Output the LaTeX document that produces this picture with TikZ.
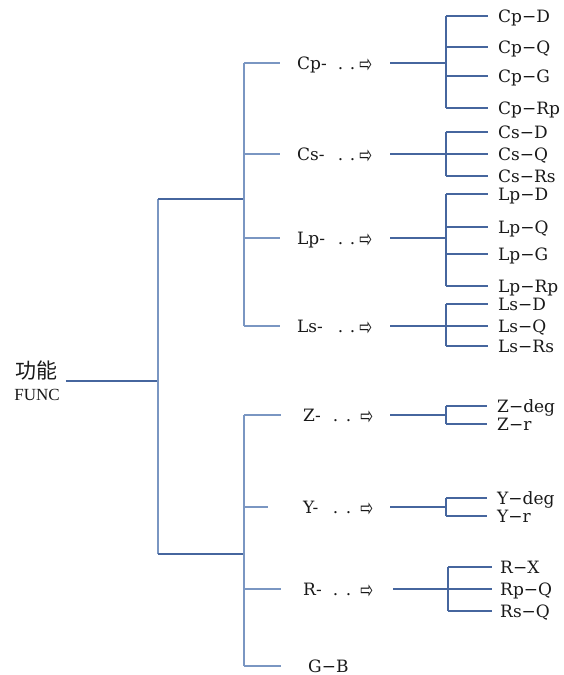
\documentclass[tikz,border=0pt]{standalone}
\usepackage{fontspec}
\setmainfont{DejaVu Serif}
\newfontfamily\cjk{Noto Sans CJK SC}
\newfontfamily\arr{DejaVu Sans}
\newfontfamily\tms{Liberation Serif}
\definecolor{lnc}{RGB}{70,102,158}
\definecolor{lnl}{RGB}{122,150,194}
\definecolor{txt}{RGB}{25,25,25}
\newcommand{\arrglyph}{\raisebox{-3.5pt}{\scalebox{0.85}[1.35]{\arr\fontsize{18}{20}\selectfont ⇨}}}
\newcommand{\midA}[1]{\makebox[75pt][l]{#1-\hfill.\hspace{6.6pt}.\hspace{4pt}\arrglyph}}
\newcommand{\midB}[1]{\makebox[70pt][l]{#1-\hfill.\hspace{7.6pt}.\hspace{9pt}\arrglyph}}
\begin{document}
\begin{tikzpicture}[x=1pt,y=-1pt,
  ln/.style={draw=lnc, line width=1.3pt},
  lnthick/.style={draw=lnl, line width=2.2pt},
  lbl/.style={anchor=west, inner sep=0pt, text height=12pt, text depth=0pt,
              font=\fontsize{17}{20}\selectfont, text=txt},
]
\useasboundingbox (0,0) rectangle (564,675);

% root
\node[inner sep=0pt, align=center, text=txt, font=\fontsize{17}{22}\selectfont] (root) at (37,381)
  {{\cjk\fontsize{21}{22}\selectfont 功能}\\{\tms FUNC}};

% level 1
\coordinate (b0) at (158,381);
\coordinate (bt) at (158,199);
\coordinate (bb) at (158,554);
\coordinate (ct) at (244,199);
\coordinate (cb) at (244,554);
\draw[ln] (root.east |- b0) ++(6,0) -- (b0);
\draw[lnthick] (bt) -- (bb);
\draw[ln] (bt) -- (ct);
\draw[ln] (bb) -- (cb);

% level 2 verticals
\coordinate (s1) at (244,63);
\coordinate (s2) at (244,154);
\coordinate (s3) at (244,238);
\coordinate (s4) at (244,326);
\coordinate (s5) at (244,415);
\coordinate (s6) at (244,507);
\coordinate (s7) at (244,589);
\coordinate (s8) at (244,666);
\draw[lnthick] (s1) -- (s4);
\draw[lnthick] (s5) -- (s8);

% middle labels
\node[lbl] (cp) at (297,63)  {\midA{Cp}};
\node[lbl] (cs) at (297,154) {\midA{Cs}};
\node[lbl] (lp) at (297,238) {\midA{Lp}};
\node[lbl] (ls) at (297,326) {\midA{Ls}};
\node[lbl] (z)  at (303,415) {\midB{Z}};
\node[lbl] (y)  at (303,507) {\midB{Y}};
\node[lbl] (r)  at (303,589) {\midB{R}};
\node[lbl] (gb) at (308,666) {G−B};

\draw[lnthick] (s1) -- ([xshift=-17pt]cp.west);
\draw[lnthick] (s2) -- ([xshift=-17pt]cs.west);
\draw[lnthick] (s3) -- ([xshift=-17pt]lp.west);
\draw[lnthick] (s4) -- ([xshift=-17pt]ls.west);
\draw[lnthick] (s5) -- ([xshift=-22pt]z.west);
\draw[lnthick] (s6) -- ([xshift=-35pt]y.west);
\draw[lnthick] (s7) -- ([xshift=-22pt]r.west);
\draw[lnthick] (s8) -- ([xshift=-27pt]gb.west);

% junctions
\coordinate (jcp) at (446,63);
\coordinate (jcs) at (446,154);
\coordinate (jlp) at (446,238);
\coordinate (jls) at (446,326);
\coordinate (jz)  at (446,415);
\coordinate (jy)  at (446,507);
\coordinate (jr)  at (448,589);

% leaves
\node[lbl] (cpD) at (498,16)  {Cp−D};
\node[lbl] (cpQ) at (498,47)  {Cp−Q};
\node[lbl] (cpG) at (498,76)  {Cp−G};
\node[lbl] (cpR) at (498,108) {Cp−Rp};
\node[lbl] (csD) at (498,132) {Cs−D};
\node[lbl] (csQ) at (498,154) {Cs−Q};
\node[lbl] (csR) at (498,176) {Cs−Rs};
\node[lbl] (lpD) at (498,194) {Lp−D};
\node[lbl] (lpQ) at (498,227) {Lp−Q};
\node[lbl] (lpG) at (498,254) {Lp−G};
\node[lbl] (lpR) at (498,286) {Lp−Rp};
\node[lbl] (lsD) at (498,304) {Ls−D};
\node[lbl] (lsQ) at (498,326) {Ls−Q};
\node[lbl] (lsR) at (498,346) {Ls−Rs};
\node[lbl] (zD)  at (497,406) {Z−deg};
\node[lbl] (zR)  at (497,424) {Z−r};
\node[lbl] (yD)  at (497,498) {Y−deg};
\node[lbl] (yR)  at (497,516) {Y−r};
\node[lbl] (rX)  at (500,567) {R−X};
\node[lbl] (rP)  at (500,589) {Rp−Q};
\node[lbl] (rS)  at (500,611) {Rs−Q};

% middle lines
\draw[ln] ([xshift=18pt]cp.east) -- (jcp);
\draw[ln] ([xshift=18pt]cs.east) -- (jcs);
\draw[ln] ([xshift=18pt]lp.east) -- (jlp);
\draw[ln] ([xshift=18pt]ls.east) -- (jls);
\draw[ln] ([xshift=17pt]z.east) -- (jz);
\draw[ln] ([xshift=17pt]y.east) -- (jy);
\draw[ln] ([xshift=20pt]r.east) -- (jr);

% leaf brackets
\draw[ln] (jcp |- cpD) -- (jcp |- cpR);
\draw[ln] (jcs |- csD) -- (jcs |- csR);
\draw[ln] (jlp |- lpD) -- (jlp |- lpR);
\draw[ln] (jls |- lsD) -- (jls |- lsR);
\draw[ln] (jz |- zD) -- (jz |- zR);
\draw[ln] (jy |- yD) -- (jy |- yR);
\draw[ln] (jr |- rX) -- (jr |- rS);

\foreach \j/\l in {jcp/cpD,jcp/cpQ,jcp/cpG,jcp/cpR,jcs/csD,jcs/csQ,jcs/csR,
                   jlp/lpD,jlp/lpQ,jlp/lpG,jlp/lpR,jls/lsD,jls/lsQ,jls/lsR,
                   jz/zD,jz/zR,jy/yD,jy/yR}
  \draw[ln] (\j |- \l) -- ([xshift=-10pt]\l.west);
\foreach \l in {rX,rP,rS}
  \draw[ln] (jr |- \l) -- ([xshift=-8pt]\l.west);
\end{tikzpicture}
\end{document}
